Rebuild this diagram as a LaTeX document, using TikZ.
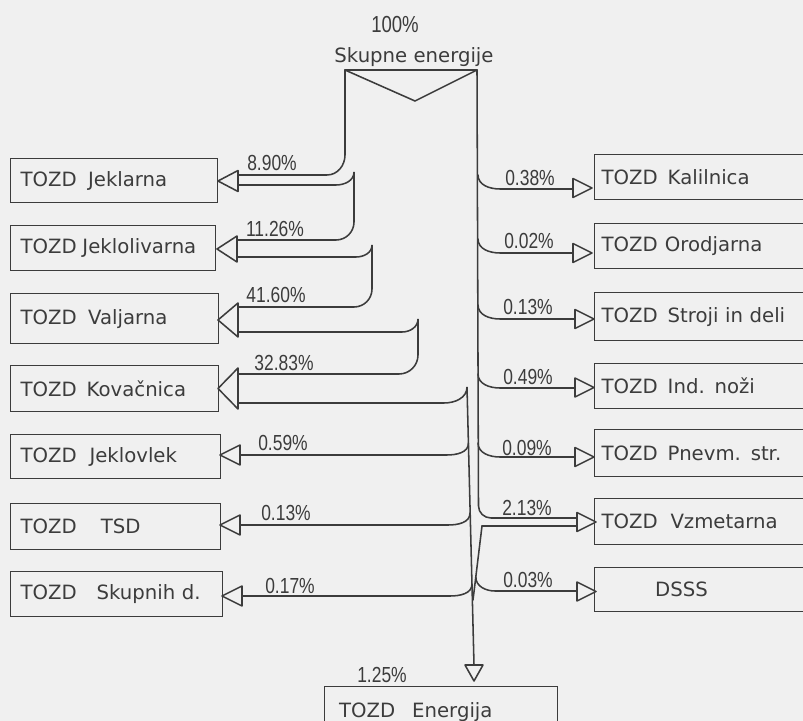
\documentclass[tikz,border=0pt]{standalone}
\usepackage{fontspec}
\setmainfont{DejaVu Sans}
\newfontfamily\pctfont[FakeStretch=0.8]{Liberation Sans}
\definecolor{ink}{HTML}{3C3C3C}
\definecolor{paper}{HTML}{F0F0F0}
\tikzset{
  flow/.style={draw=ink, line width=1.1pt, line cap=round},
  tip/.style={draw=ink, fill=paper, line width=1.1pt, line join=round},
  tozd/.style={draw=ink, line width=1pt, rectangle, anchor=north west, align=left,
    inner ysep=0pt, font=\fontsize{14}{16}\selectfont, text=ink},
  head/.style={font=\fontsize{14}{16}\selectfont, text=ink, inner sep=0pt, anchor=base},
  pct/.style={font=\pctfont\fontsize{15.5}{17}\selectfont, text=ink, inner sep=0pt, anchor=base},
}
\begin{document}
\begin{tikzpicture}[x=0.025cm, y=-0.025cm]
\clip (0,0) rectangle (803,721);
\fill[paper] (0,0) rectangle (803,721);
% 顶部
\node[pct, font=\pctfont\fontsize{16.5}{18}\selectfont] (total) at (395,33) {100\%};
\node[head] (skupne) at (414,63) {Skupne energije};
\draw[flow] (345,70) -- (477,70);
\draw[flow] (345,70) -- (415,101) -- (477,70);
% 左侧
\foreach \n/\y/\w/\h/\t in {jeklarna/158/207/44/{TOZD\hspace{8pt}Jeklarna},
    jeklolivarna/225/205/45/{TOZD\hspace{4pt}Jeklolivarna},
    valjarna/293/208/50/{TOZD\hspace{8pt}Valjarna},
    kovacnica/365/208/46/{TOZD\hspace{7pt}Kovačnica},
    jeklovlek/434/210/44/{TOZD\hspace{9pt}Jeklovlek},
    tsd/503/210/46/{TOZD\hspace{17pt}TSD},
    skupnih/571/212/45/{TOZD\hspace{14pt}Skupnih d.}}
{
  \pgfmathsetmacro\tw{(\w-20)*0.025}
  \node[tozd, inner xsep=0.25cm, minimum width=\w*0.025cm, minimum height=\h*0.025cm,
    text width=\tw cm] (\n) at (10,\y) {\t};
}
\foreach \y/\h/\xt in {181/10.5/218, 249/13/217, 320/17/218, 388.5/20.5/218,
    455/10/220, 525/10/220, 596/10/222}
  \draw[tip] (\xt,\y) -- (\xt+20,\y-\h) -- (\xt+20,\y+\h) -- cycle;
\draw[flow] (345,70) -- (345,155) to[out=-90,in=0] (327,175) -- (238,175);
\draw[flow] (238,185) -- (336,185) to[out=0,in=-90] (354,172) -- (354,222)
  to[out=-90,in=0] (336,240) -- (237,240);
\draw[flow] (237,257) -- (356,257) to[out=0,in=-90] (372,245) -- (372,289)
  to[out=-90,in=0] (354,307) -- (238,307);
\draw[flow] (238,332) -- (402,332) to[out=0,in=-90] (418,319) -- (418,355)
  to[out=-90,in=0] (399,374) -- (238,374);
\draw[flow] (238,403) -- (444,403) to[out=0,in=-90] (467,387) -- (474,665);
\foreach \y/\xa/\xj in {455/240/468.5, 525/240/470, 596/242/472}
  \draw[flow] (\xa,\y) -- (\xj-22,\y) to[out=0,in=-90] (\xj,\y-12);
\node[pct] (p890) at (272,171) {8.90\%};
\node[pct] (p1126) at (275,237) {11.26\%};
\node[pct] (p4160) at (276,303) {41.60\%};
\node[pct] (p3283) at (284,371) {32.83\%};
\node[pct] (p059) at (283,450) {0.59\%};
\node[pct] (p013a) at (286,520) {0.13\%};
\node[pct] (p017) at (290,593) {0.17\%};
% 右侧
\foreach \n/\y/\h/\t in {kalilnica/154/45/{TOZD\hspace{7pt}Kalilnica},
    orodjarna/223/45/{TOZD\hspace{5pt}Orodjarna},
    stroji/292/48/{TOZD\hspace{7pt}Stroji in deli},
    indnozi/363/45/{TOZD\hspace{7pt}Ind. noži},
    pnevm/429/47/{TOZD\hspace{7pt}Pnevm. str.},
    vzmetarna/498/46/{TOZD\hspace{9pt}Vzmetarna},
    dsss/567/44/{\hspace*{38pt}DSSS}}
  \node[tozd, inner xsep=0.175cm, minimum width=6cm, minimum height=\h*0.025cm,
    text width=5.65cm] (\n) at (594,\y) {\t};
\draw[flow] (477,70) -- (478.5,506) to[out=-90,in=180] (491,518) -- (577,518);
\foreach \y/\xb in {189/573, 253/573, 319/575, 388/575, 457/575}
  \draw[flow] (478,\y-14) to[out=-90,in=180] (500,\y) -- (\xb,\y);
\draw[flow] (577,526) -- (482,526) -- (473,600);
\draw[flow] (475.8,577) to[out=-90,in=180] (495,591) -- (577,591);
\foreach \y/\xb in {188/573, 253/573, 319/575, 387.5/575, 457/575, 522/577, 591.5/577}
  \draw[tip] (\xb,\y-9.5) -- (\xb+19,\y) -- (\xb,\y+9.5) -- cycle;
\node[pct] (p038) at (530,186) {0.38\%};
\node[pct] (p002) at (529,249) {0.02\%};
\node[pct] (p013b) at (528,315) {0.13\%};
\node[pct] (p049) at (528,385) {0.49\%};
\node[pct] (p009) at (527,455) {0.09\%};
\node[pct] (p213) at (527,515) {2.13\%};
\node[pct] (p003) at (528,587) {0.03\%};
% 底部
\draw[tip] (465,665) -- (483,665) -- (474,681) -- cycle;
\node[pct] (p125) at (382,682) {1.25\%};
\node[tozd, inner xsep=0.35cm, minimum width=233*0.025cm, minimum height=50*0.025cm,
  text width=5.1cm] (energija) at (324,686) {TOZD\hspace{12pt}Energija};
\end{tikzpicture}
\end{document}
